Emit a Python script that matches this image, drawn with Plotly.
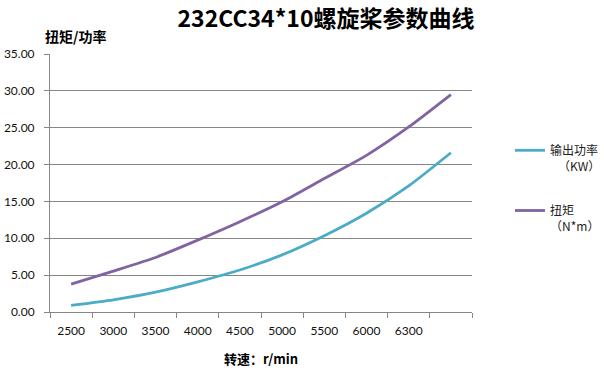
import plotly.graph_objects as go

categories = ["2500", "3000", "3500", "4000", "4500", "5000", "5500", "6000", "6300", " "]
power_kw = [0.90, 1.66, 2.70, 4.10, 5.70, 7.75, 10.35, 13.40, 17.10, 21.60]
torque_nm = [3.78, 5.55, 7.40, 9.75, 12.25, 14.95, 18.10, 21.25, 25.10, 29.50]

CJK = "Noto Sans CJK SC"
NUM = "Lato"

W, H = 604, 374
L, T, PW, PH = 50, 54, 422, 258

fig = go.Figure()
fig.add_trace(go.Scatter(
    x=categories, y=power_kw, mode="lines", name="输出功率<br>\u00a0\u00a0\u00a0（KW）",
    line=dict(color="#4BACC6", width=2.8, shape="spline", smoothing=0.6),
    legendgroup="a",
))
fig.add_trace(go.Scatter(
    x=categories, y=torque_nm, mode="lines", name="扭矩<br>（N*m）",
    line=dict(color="#8064A2", width=2.8, shape="spline", smoothing=0.6),
    legendgroup="b",
))

fig.update_layout(
    width=W, height=H,
    margin=dict(l=L, r=W - L - PW, t=T, b=H - T - PH, autoexpand=False),
    paper_bgcolor="white", plot_bgcolor="white",
    title=dict(text="<b>232CC34*10螺旋桨参数曲线</b>", x=326 / W, xanchor="center",
               y=1 - 19 / H, yanchor="middle",
               font=dict(family=CJK, size=23, color="#000000")),
    showlegend=True,
    legend=dict(x=(510 - L) / PW, xanchor="left", y=(T + PH - 136) / PH, yanchor="top",
                font=dict(family=CJK, size=12, color="#222222"),
                tracegroupgap=26, valign="top", bgcolor="rgba(0,0,0,0)"),
    xaxis=dict(
        type="category", categoryorder="array", categoryarray=categories,
        range=[-0.5, len(categories) - 0.5],
        tickson="boundaries", automargin=False, ticklabelstandoff=8,
        showgrid=False, showline=True, linecolor="#868686", linewidth=1,
        ticks="outside", ticklen=5, tickcolor="#868686",
        tickfont=dict(family=NUM, size=12, color="#111111"),
        zeroline=False,
    ),
    yaxis=dict(
        range=[0, 35], dtick=5, tickformat=".2f", automargin=False,
        ticklabelstandoff=7,
        showgrid=True, gridcolor="#868686", gridwidth=1,
        showline=True, linecolor="#868686", linewidth=1,
        ticks="outside", ticklen=5, tickcolor="#868686",
        tickfont=dict(family=NUM, size=12, color="#111111"),
        zeroline=False,
    ),
    annotations=[
        dict(text="<b>扭矩/功率</b>", xref="paper", yref="paper",
             x=(43 - L) / PW, y=(T + PH - 36) / PH, xanchor="left", yanchor="middle",
             showarrow=False, font=dict(family=CJK, size=14, color="#000000")),
        dict(text="<b>转速：r/min</b>", xref="paper", yref="paper",
             x=(261 - L) / PW, y=(T + PH - 358) / PH, xanchor="center", yanchor="middle",
             showarrow=False, font=dict(family=CJK, size=13, color="#000000")),
    ],
)

fig.write_html("out.html", config={"displayModeBar": False},
               post_script="document.body.style.margin='0';")
